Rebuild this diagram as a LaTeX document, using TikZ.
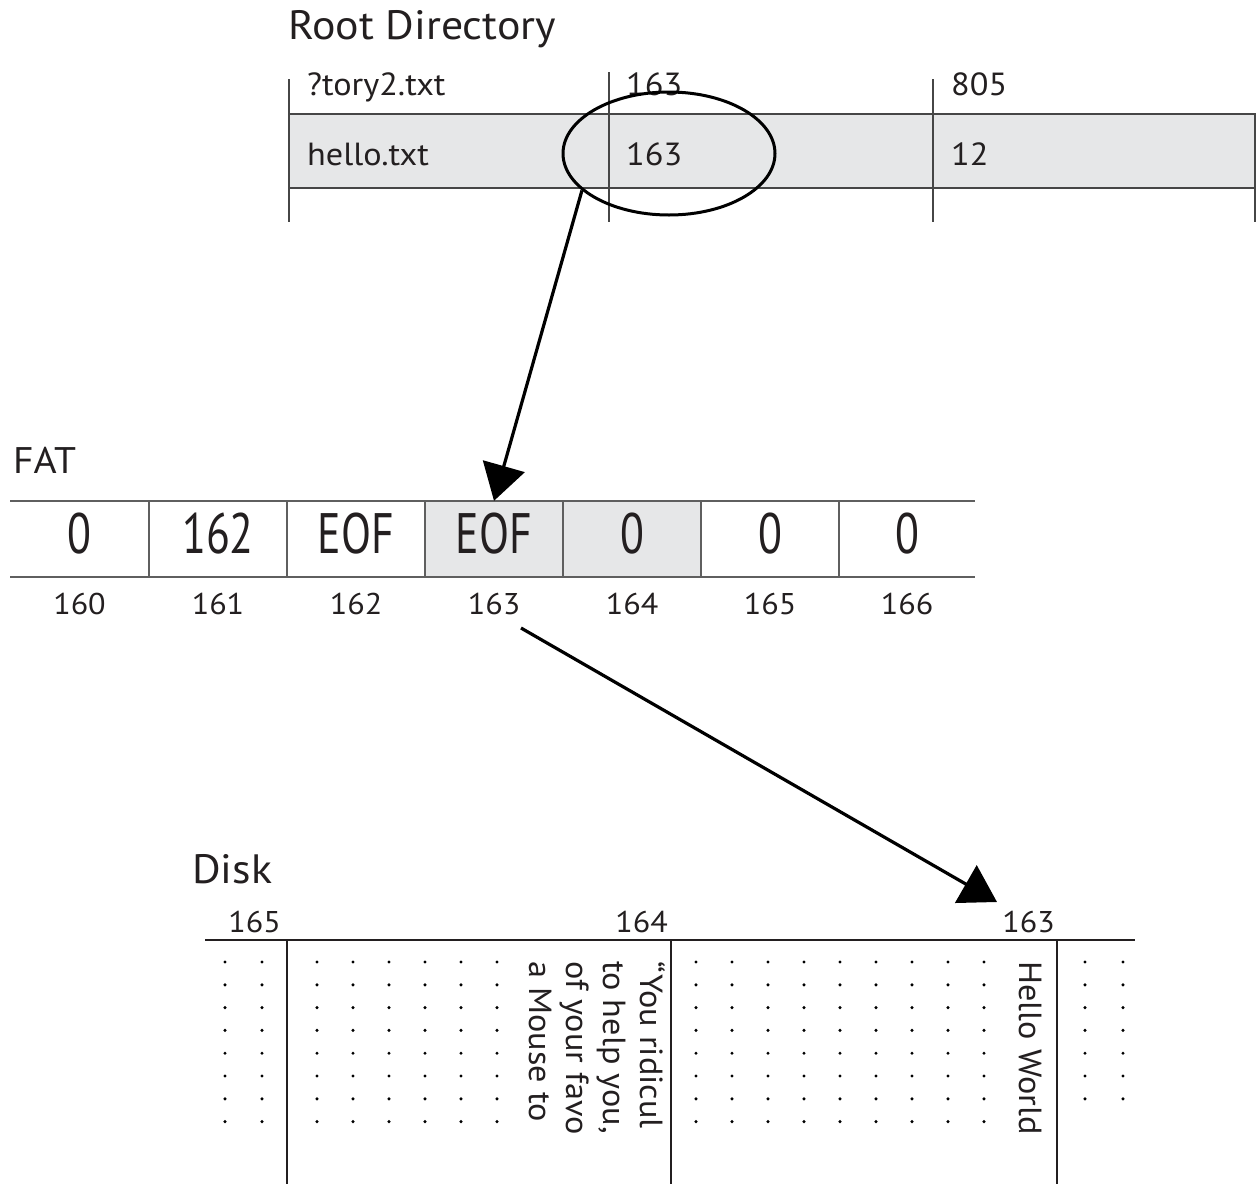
\documentclass[tikz,border=0pt]{standalone}
\usepackage{fontspec}
\usepackage{graphicx}
\setmainfont{PT Sans}[FakeStretch=1.07]
\usetikzlibrary{arrows.meta,shapes.geometric}
\definecolor{ink}{RGB}{35,31,32}
\definecolor{rulegray}{RGB}{70,70,70}
\definecolor{fatgray}{RGB}{95,95,95}
\definecolor{cellfill}{RGB}{230,231,232}
\begin{document}
\begin{tikzpicture}[x=1pt,y=-1pt,
  lbl/.style={text=ink, inner sep=0pt, font=\fontsize{32}{38}\selectfont},
  smalllbl/.style={text=ink, inner sep=0pt, font=\fontsize{30}{36}\selectfont},
  heading/.style={text=ink, inner sep=0pt, font=\fontsize{41}{48}\selectfont, anchor=base west},
  rootcell/.style={lbl, anchor=base west},
  idx/.style={smalllbl, anchor=base},
  disklbl/.style={smalllbl, anchor=base east},
  fatval/.style={text=ink, inner sep=0pt, font=\fontsize{41}{48}\selectfont, anchor=base},
  fatcell/.style={rectangle, minimum width=138pt, minimum height=76pt, inner sep=0pt},
  rootrule/.style={draw=rulegray, line width=2pt},
  fatrule/.style={draw=fatgray, line width=2.5pt},
  diskrule/.style={draw=ink, line width=2pt},
  ptr/.style={draw=black, line width=3.2pt, -{Triangle[length=36pt,width=43pt]}},
  vtext/.style={text=ink, inner sep=0pt, font=\fontsize{32}{37}\selectfont, rotate=-90, anchor=north west, align=left},
]
\useasboundingbox (0,0) rectangle (1256,1184);
\fill[white] (0,0) rectangle (1256,1184);

% ---------- Root directory ----------
\node[heading] (roottitle) at (288,39) {Root Directory};
\fill[cellfill] (289,114) rectangle (1256,188);
\draw[rootrule] (289,114) -- (1256,114);
\draw[rootrule] (289,188) -- (1256,188);
\draw[rootrule] (289,79) -- (289,222);
\draw[rootrule] (609,72) -- (609,222);
\draw[rootrule] (933,79) -- (933,222);
\draw[rootrule] (1255,114) -- (1255,222);
\node[rootcell] (r1name) at (307,95) {?tory2.txt};
\node[rootcell] (r1clu) at (626,95) {163};
\node[rootcell] (r1size) at (951,95) {805};
\node[rootcell] (r2name) at (307,165) {hello.txt};
\node[rootcell] (r2clu) at (626,165) {163};
\node[rootcell] (r2size) at (951,165) {12};
\node[draw=black, line width=3pt, ellipse, minimum width=212pt, minimum height=123pt, inner sep=0pt] (ell) at (669,153.5) {};

% ---------- FAT ----------
\node[heading, font=\fontsize{37}{44}\selectfont] (fattitle) at (13,473) {FAT};
\fill[cellfill] (425,501) rectangle (701,577);
\draw[fatrule] (10,501) -- (975,501);
\draw[fatrule] (10,577) -- (975,577);
\foreach \x in {149,287,425,563,701,839} \draw[fatrule] (\x,501) -- (\x,577);
\foreach \n/\cx/\v in {160/79.5/0,161/218/162,162/356/EOF,163/494/EOF,164/632/0,165/770/0,166/907/0} {
  \node[fatcell] (fat\n) at (\cx,539) {};
  \node[fatval] (fv\n) at (\cx,553) {\scalebox{1}[1.39]{\v}};
  \node[idx] (fl\n) at (\cx,614) {\n};
}

% ---------- Disk ----------
\node[heading] (disktitle) at (192,883) {Disk};
\draw[diskrule] (205,940) -- (1135,940);
\draw[diskrule] (287,940) -- (287,1184);
\draw[diskrule] (671,940) -- (671,1184);
\draw[diskrule] (1057,940) -- (1057,1184);
\node[disklbl] (d165) at (281,932) {165};
\node[disklbl] (d164) at (668,932) {164};
\node[disklbl] (d163) at (1055,932) {163};
\foreach \x in {225,262,317,353,389,425,461,497,696,732,768,804,840,876,912,948,984}
  \foreach \i in {0,...,7} \fill[black] (\x,{962+22.8*\i}) circle (1.7);
\foreach \x in {1085,1123}
  \foreach \i in {0,...,6} \fill[black] (\x,{962+22.8*\i}) circle (1.7);
\node[vtext] (quote) at (666,961) {“You ridicul\\to help you,\\of your favo\\a Mouse to};
\node[vtext] (hello) at (1042,961) {Hello World};

% ---------- Pointers ----------
\draw[ptr] (ell.203) -- (fat163.north);
\coordinate (a2s) at (521,628);
\coordinate (a2e) at (997,902);
\draw[ptr] (a2s) -- (a2e);
\end{tikzpicture}
\end{document}
